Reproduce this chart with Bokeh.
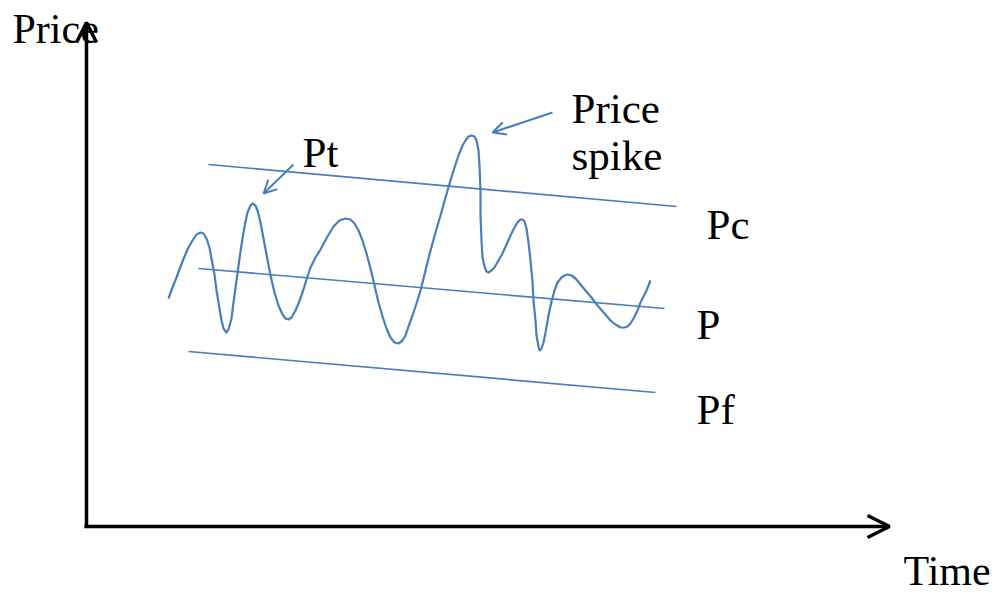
from bokeh.plotting import figure
from bokeh.models import Range1d, Arrow, OpenHead
from bokeh.core.properties import value
from bokeh.embed import file_html
from bokeh.resources import INLINE

# ---- data (screen-like coordinates) ----
wave_pts = [(168, 298), (172, 287), (176, 277), (180, 266), (184, 256), (188, 247), (192, 240),
            (196, 234), (200, 232), (203, 233), (206, 238), (209, 247), (211, 258), (214, 274),
            (216, 290), (219, 308), (221, 320), (223, 328), (226, 332), (228, 329), (231, 318),
            (233, 302), (236, 280), (239, 258), (242, 238), (245, 221), (247, 212), (250, 205),
            (252, 203), (255, 205), (257, 210), (260, 222), (263, 238), (266, 254), (270, 275),
            (274, 292), (278, 305), (282, 314), (285, 318), (288, 319), (291, 317), (295, 310),
            (298, 303), (302, 292), (306, 279), (310, 267), (315, 257), (320, 249), (327, 236),
            (333, 226), (339, 220), (345, 218), (350, 219), (354, 223), (358, 230), (362, 240),
            (366, 253), (370, 268), (374, 285), (378, 302), (382, 316), (386, 328), (390, 337),
            (394, 342), (398, 343), (402, 340), (405, 335), (408, 326), (412, 315), (416, 303),
            (420, 290), (425, 270), (430, 250), (435, 232), (440, 215), (445, 197), (450, 180),
            (454, 167), (458, 155), (462, 145), (465, 140), (468, 136), (471, 135), (474, 136),
            (476, 140), (478, 150), (479, 165), (480, 190), (480, 215), (481, 240), (482, 257),
            (484, 266), (486, 271), (488, 272), (491, 270), (494, 267), (498, 260), (502, 253),
            (506, 244), (510, 235), (514, 227), (517, 222), (520, 219), (522, 219), (524, 221),
            (526, 228), (528, 242), (530, 260), (532, 281), (533, 300), (535, 320), (536, 335),
            (538, 346), (539, 350), (541, 348), (543, 342), (545, 332), (548, 315), (551, 301),
            (554, 290), (557, 282), (561, 277), (564, 275), (567, 274), (571, 275), (575, 278),
            (580, 284), (585, 290), (591, 297), (597, 305), (604, 313), (610, 320), (615, 324),
            (620, 327), (624, 327), (627, 326), (630, 323), (633, 318), (637, 310), (640, 302),
            (643, 296), (646, 290), (650, 280)]
wave_x = [pt[0] for pt in wave_pts]
wave_y = [pt[1] for pt in wave_pts]

band_names = ["Pc", "P", "Pf"]
band_x0 = [208, 198, 188]
band_y0 = [164, 268, 351]
band_x1 = [676, 664, 655]
band_y1 = [206, 308, 392]

label_text = ["Pc", "P", "Pf", "Pt", "Price", "spike"]
label_x = [706, 696, 696, 302, 571, 571]
label_y = [238, 338, 423, 166, 122, 169]

axis_text = ["Price", "Time"]
axis_text_x = [12, 903]
axis_text_y = [42, 584]

TEXT_SHIFT = -14  # svg baseline correction

# ---- figure: data units = page pixels ----
W, H = 999, 595
p = figure(width=W, height=H, output_backend="svg", toolbar_location=None,
           x_range=Range1d(0, W), y_range=Range1d(H, 0),
           min_border=0)
p.axis.visible = False
p.grid.visible = False
p.outline_line_color = None
p.background_fill_color = "white"
p.border_fill_color = "white"

blue = "#4a7ebb"

# axes with arrows
p.add_layout(Arrow(x_start=86, y_start=527, x_end=86, y_end=22,
                   line_width=3.5, line_color="black",
                   end=OpenHead(size=20, line_width=3.5, line_color="black")))
p.add_layout(Arrow(x_start=84, y_start=526, x_end=889, y_end=526,
                   line_width=3.5, line_color="black",
                   end=OpenHead(size=22, line_width=3.5, line_color="black")))

# band lines
p.segment(x0=band_x0, y0=band_y0, x1=band_x1, y1=band_y1,
          line_color=blue, line_width=1.7)

# price wave
p.line(wave_x, wave_y, line_color=blue, line_width=2.2, line_join="round")

# annotation arrows
p.add_layout(Arrow(x_start=293, y_start=164, x_end=263, y_end=193,
                   line_width=2, line_color=blue,
                   end=OpenHead(size=13, line_width=2, line_color=blue)))
p.add_layout(Arrow(x_start=552, y_start=112, x_end=492, y_end=132,
                   line_width=2, line_color=blue,
                   end=OpenHead(size=13, line_width=2, line_color=blue)))

# labels
p.text(x=label_x, y=[v + TEXT_SHIFT for v in label_y], text=label_text,
       text_font=value("Liberation Serif"),
       text_font_size="43px", text_color="black", text_baseline="alphabetic",
       text_align="left")
p.text(x=axis_text_x, y=[v + TEXT_SHIFT for v in axis_text_y], text=axis_text,
       text_font=value("Liberation Serif"),
       text_font_size="42px", text_color="black", text_baseline="alphabetic",
       text_align="left")

open("out.html", "w").write(file_html(p, INLINE))
